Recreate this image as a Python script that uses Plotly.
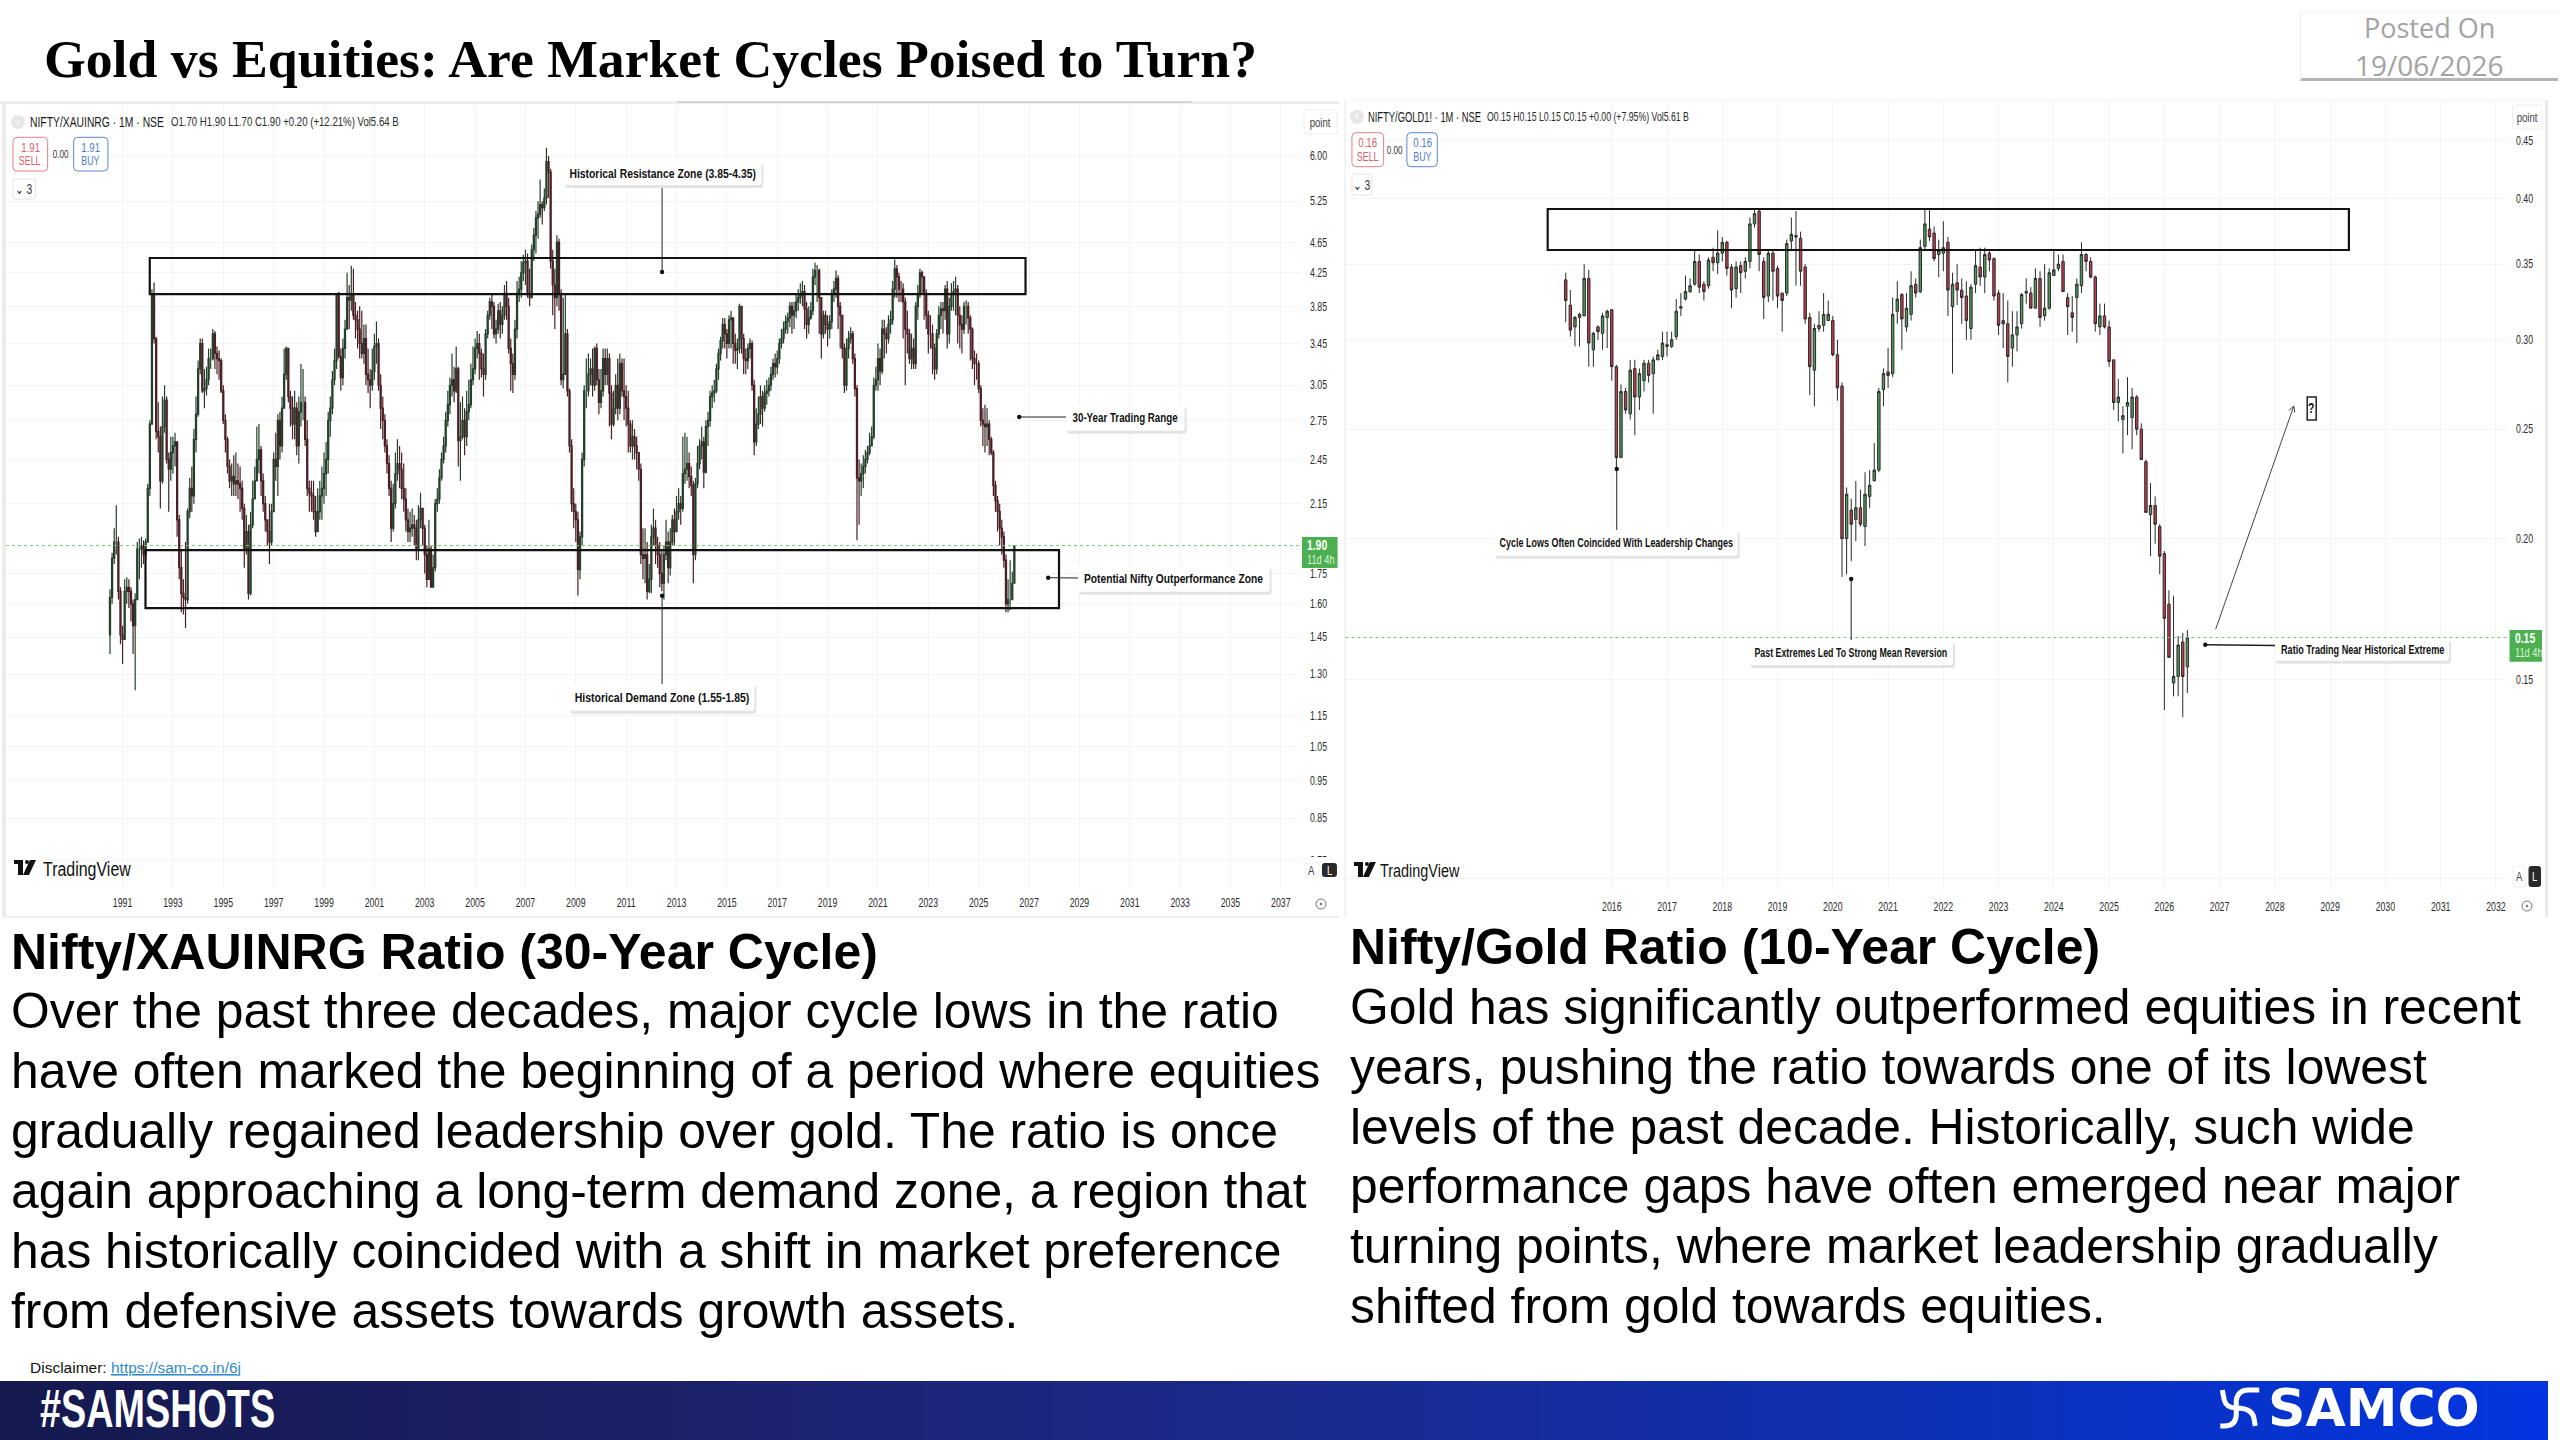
import pandas as pd
import numpy as np
import plotly.graph_objects as go

W, H = 2560, 1440
SANS = "Liberation Sans"


def narrow(percent):
    # Family stack with a width marker that the page script reads to condense the text
    return f"{SANS}, narrow{percent}"


# NIFTY / XAUINR monthly candles, Jul 1990 - Jun 2026 (one row per calendar year)
nifty_xau_first_open = 1.46
nifty_xau_close = [
    1.63,1.83,1.92,1.92,1.66,1.46,
    1.44,1.66,1.68,1.66,1.60,1.50,1.62,1.88,1.88,1.90,1.85,1.92,
    2.25,2.72,3.98,3.50,2.66,2.62,2.30,2.70,2.92,2.45,2.38,2.50,
    2.55,2.58,2.05,1.78,1.65,1.63,1.62,2.10,2.25,2.20,2.60,2.80,
    3.20,3.45,3.00,3.02,3.10,3.30,3.30,3.55,3.35,3.30,3.28,3.00,
    2.75,2.60,2.40,2.30,2.33,2.28,2.30,2.28,2.25,2.12,1.88,1.98,
    1.65,2.02,2.18,2.30,2.45,2.52,2.30,2.15,2.05,1.98,1.92,2.10,
    2.45,2.40,2.75,2.55,2.85,3.15,3.40,2.95,2.85,2.72,2.85,2.55,
    2.82,2.90,2.90,2.60,2.25,2.22,2.20,2.10,1.98,2.10,2.20,2.25,
    2.35,2.45,2.75,2.85,3.10,3.28,3.98,3.32,3.12,3.40,3.60,3.95,
    3.92,3.98,3.75,3.70,3.60,3.45,3.35,3.50,3.15,3.10,3.05,3.18,
    3.42,3.45,3.05,2.85,2.75,2.55,2.42,2.25,2.00,2.15,2.35,2.42,
    2.38,2.25,2.18,2.05,1.98,2.00,2.02,2.00,1.88,2.05,2.12,2.00,
    1.85,1.72,1.88,1.68,1.78,2.15,2.18,2.32,2.45,2.55,2.75,2.88,
    3.05,3.10,3.00,3.20,2.59,2.62,2.75,2.62,2.82,2.88,3.10,3.20,
    3.40,3.45,3.35,3.20,3.15,3.55,3.75,3.90,3.85,3.55,3.60,3.80,
    3.65,3.75,4.00,3.85,3.40,3.25,3.15,3.60,4.00,4.05,4.25,4.38,
    4.40,4.00,3.95,4.55,4.75,5.00,5.05,5.20,5.15,5.30,5.90,5.72,
    4.40,4.10,3.95,4.65,4.00,3.10,3.15,3.55,3.00,2.55,2.15,2.10,
    2.05,1.77,1.95,2.45,3.00,3.00,3.15,3.20,3.05,3.40,3.10,2.90,
    3.00,3.30,3.15,3.30,2.98,2.72,2.85,3.05,2.85,3.25,3.00,2.95,
    2.85,2.72,2.55,2.62,2.55,2.50,2.38,1.85,1.83,1.85,1.66,1.72,
    1.95,2.00,1.90,1.85,1.75,1.70,1.85,1.92,1.78,1.92,2.05,1.98,
    2.10,2.15,2.12,2.35,2.38,2.42,2.33,2.27,1.85,2.28,2.42,2.55,
    2.58,2.36,2.70,2.75,2.95,2.98,3.00,3.20,3.35,3.48,3.65,3.55,
    3.45,3.70,3.72,3.45,3.38,3.40,3.85,3.50,3.30,3.28,3.40,3.45,
    3.05,2.58,2.72,2.80,2.95,2.85,2.98,3.00,3.05,3.15,3.25,3.22,
    3.30,3.45,3.50,3.60,3.68,3.72,3.85,3.75,3.80,3.90,3.95,3.98,
    4.02,3.82,3.65,3.72,3.80,4.20,4.28,4.28,3.95,3.55,3.75,3.65,
    3.60,3.68,4.00,4.05,4.18,3.85,3.75,3.40,3.05,3.40,3.50,3.55,
    3.30,3.02,2.32,2.30,2.35,2.40,2.45,2.50,2.55,2.62,3.05,3.10,
    3.30,3.18,3.60,3.55,3.50,3.65,3.70,4.05,4.30,4.20,4.05,4.05,
    3.90,3.60,3.55,3.30,3.40,3.25,3.85,4.00,4.25,4.20,4.00,3.75,
    3.55,3.55,3.40,3.20,3.55,3.75,3.82,3.80,4.05,3.55,3.85,4.00,
    4.02,4.05,3.75,3.65,3.60,3.85,3.85,3.72,3.60,3.30,3.25,3.25,
    3.02,2.75,2.72,2.70,2.72,2.60,2.50,2.27,2.17,2.10,2.00,1.95,
    1.82,1.60,1.62,1.62,1.70,1.90,
]
nifty_xau_high = [
    1.67,1.86,2.00,2.14,1.95,1.68,
    1.50,1.72,1.73,1.72,1.68,1.62,1.65,1.92,1.94,1.95,1.93,1.94,
    2.28,2.75,4.05,4.13,3.52,2.90,2.70,2.95,3.05,2.95,2.50,2.62,
    2.62,2.65,2.20,2.08,1.88,1.72,1.92,2.12,2.32,2.40,2.68,2.95,
    3.28,3.50,3.50,3.20,3.22,3.40,3.40,3.60,3.58,3.42,3.38,3.30,
    3.05,2.80,2.62,2.45,2.42,2.48,2.50,2.42,2.40,2.30,2.15,2.08,
    2.02,2.10,2.30,2.40,2.70,2.72,2.55,2.35,2.20,2.05,2.15,2.15,
    2.50,2.65,2.80,2.82,2.95,3.40,3.42,3.20,3.00,2.95,3.00,2.90,
    2.95,3.25,3.20,2.95,2.75,2.30,2.30,2.30,2.20,2.25,2.30,2.40,
    2.50,2.58,2.82,2.95,3.18,3.40,4.00,4.02,3.40,3.50,3.70,4.25,
    4.10,4.34,4.30,3.90,3.80,3.85,3.80,3.65,3.65,3.40,3.20,3.40,
    3.55,3.68,3.50,3.15,2.95,2.80,2.60,2.48,2.30,2.28,2.50,2.60,
    2.55,2.50,2.42,2.25,2.12,2.10,2.12,2.08,2.05,2.14,2.22,2.12,
    2.02,1.90,2.05,1.90,1.85,2.18,2.25,2.38,2.50,2.62,2.82,3.00,
    3.12,3.35,3.22,3.42,3.22,2.90,2.95,2.85,3.00,3.10,3.25,3.42,
    3.50,3.58,3.55,3.40,3.35,3.60,3.80,3.95,3.98,3.90,3.70,3.88,
    3.90,3.85,4.10,4.15,3.95,3.50,3.35,3.70,4.15,4.20,4.40,4.48,
    4.55,4.50,4.30,4.62,4.85,5.10,5.25,5.60,5.25,5.45,6.15,6.00,
    5.78,4.55,4.30,4.75,4.70,4.05,3.95,4.00,3.60,3.02,2.60,2.25,
    2.15,2.10,1.98,2.50,3.05,3.30,3.35,3.30,3.40,3.42,3.45,3.20,
    3.20,3.40,3.40,3.40,3.35,3.05,3.00,3.15,3.30,3.35,3.30,3.30,
    3.05,3.00,2.75,2.75,2.68,2.62,2.50,2.42,2.00,2.00,1.92,1.80,
    2.02,2.12,2.05,1.95,1.92,1.88,1.90,2.05,1.98,2.00,2.08,2.12,
    2.20,2.25,2.20,2.62,2.65,2.62,2.50,2.40,2.30,2.32,2.55,2.60,
    2.70,2.62,2.75,2.82,3.00,3.05,3.10,3.25,3.40,3.52,3.72,3.72,
    3.60,3.75,3.80,3.70,3.55,3.50,3.88,3.85,3.55,3.40,3.45,3.50,
    3.48,3.10,2.85,2.95,3.05,3.00,3.05,3.10,3.12,3.22,3.30,3.35,
    3.38,3.50,3.60,3.68,3.75,3.78,3.90,3.90,3.90,3.98,4.05,4.12,
    4.15,4.10,3.90,3.85,3.90,4.30,4.38,4.35,4.30,3.95,3.80,3.80,
    3.75,3.75,4.05,4.15,4.28,4.22,3.90,3.75,3.45,3.50,3.58,3.62,
    3.58,3.35,3.05,2.45,2.42,2.48,2.52,2.55,2.65,2.70,3.12,3.22,
    3.45,3.40,3.70,3.70,3.62,3.75,3.80,4.15,4.42,4.35,4.25,4.15,
    4.12,3.95,3.80,3.60,3.55,3.50,3.90,4.10,4.30,4.28,4.20,4.05,
    3.80,3.75,3.65,3.45,3.60,3.85,3.90,3.90,4.10,4.15,3.95,4.12,
    4.15,4.20,4.10,3.85,3.75,3.90,3.92,3.90,3.75,3.62,3.38,3.35,
    3.28,3.05,2.85,2.88,2.85,2.75,2.62,2.52,2.30,2.20,2.15,2.05,
    1.98,1.85,1.72,1.82,1.76,1.90,
]
nifty_xau_low = [
    1.38,1.60,1.80,1.85,1.62,1.42,
    1.34,1.44,1.60,1.58,1.52,1.38,1.24,1.62,1.72,1.78,1.80,1.82,
    1.94,2.20,2.72,3.45,2.60,2.50,2.12,2.28,2.65,2.42,2.10,2.30,
    2.35,2.40,1.95,1.72,1.56,1.55,1.49,1.60,2.06,2.10,2.15,2.50,
    2.78,3.15,2.98,2.85,2.96,3.05,3.20,3.28,3.20,3.15,3.10,2.98,
    2.72,2.50,2.35,2.25,2.20,2.20,2.20,2.18,2.10,2.05,1.78,1.85,
    1.62,1.64,2.00,2.18,2.30,2.35,2.20,2.10,1.98,1.90,1.80,1.90,
    2.10,2.30,2.20,2.45,2.50,2.85,3.10,2.90,2.70,2.60,2.60,2.48,
    2.42,2.70,2.75,2.55,2.20,2.10,2.10,2.05,1.95,1.98,2.05,2.05,
    2.15,2.20,2.35,2.62,2.80,3.05,3.20,3.30,3.00,3.05,3.30,3.60,
    3.60,3.80,3.70,3.50,3.40,3.30,3.30,3.25,3.05,2.98,2.85,3.00,
    3.10,3.25,3.00,2.68,2.60,2.50,2.35,2.20,1.92,1.98,2.12,2.30,
    2.25,2.18,2.10,1.98,1.92,1.92,1.95,1.90,1.82,1.82,2.00,1.90,
    1.75,1.68,1.72,1.68,1.69,1.76,2.10,2.15,2.30,2.42,2.50,2.70,
    2.80,2.95,2.90,2.98,2.40,2.30,2.60,2.48,2.55,2.75,2.85,3.05,
    3.15,3.30,3.10,3.12,2.95,3.10,3.50,3.70,3.60,3.50,3.45,3.55,
    3.50,3.55,3.70,3.70,3.35,3.00,2.98,3.10,3.50,3.90,3.95,4.15,
    4.10,3.95,3.85,3.95,4.40,4.50,4.70,5.00,4.90,5.10,5.20,5.30,
    4.30,3.75,3.60,3.85,3.80,3.05,3.02,3.40,2.95,2.50,2.10,2.00,
    1.92,1.64,1.72,1.90,2.40,2.85,2.95,3.05,2.95,3.00,3.05,2.80,
    2.85,2.95,3.05,3.05,2.70,2.60,2.70,2.80,2.75,2.80,2.95,2.75,
    2.70,2.50,2.50,2.45,2.45,2.38,2.30,1.80,1.72,1.70,1.62,1.65,
    1.65,1.90,1.80,1.78,1.68,1.66,1.62,1.82,1.70,1.74,1.90,1.90,
    2.00,2.05,2.02,2.10,2.28,2.30,2.25,2.20,1.70,1.82,2.25,2.38,
    2.45,2.25,2.35,2.55,2.70,2.85,2.90,2.98,3.10,3.28,3.40,3.40,
    3.30,3.40,3.40,3.25,3.25,3.20,3.35,3.35,3.15,3.15,3.20,3.30,
    3.00,2.48,2.55,2.68,2.72,2.70,2.82,2.88,2.95,3.00,3.10,3.12,
    3.15,3.25,3.40,3.45,3.55,3.55,3.62,3.55,3.60,3.72,3.80,3.88,
    3.85,3.60,3.50,3.55,3.70,3.75,4.10,3.90,3.55,3.30,3.50,3.55,
    3.42,3.50,3.60,3.90,3.95,3.60,3.40,3.30,2.98,3.00,3.30,3.45,
    3.25,2.95,1.93,2.02,2.20,2.25,2.35,2.42,2.48,2.55,2.60,3.00,
    3.00,3.05,3.15,3.30,3.35,3.45,3.55,3.65,3.95,3.95,3.90,3.90,
    3.50,3.05,3.35,3.25,3.20,3.20,3.20,3.70,3.95,4.00,3.70,3.60,
    3.35,3.40,3.15,3.10,3.15,3.50,3.60,3.55,3.70,3.40,3.45,3.80,
    3.80,3.75,3.45,3.40,3.35,3.55,3.65,3.55,3.28,3.20,3.05,3.10,
    2.98,2.70,2.55,2.50,2.55,2.48,2.48,2.20,2.10,1.98,1.90,1.85,
    1.78,1.56,1.56,1.57,1.64,1.70,
]

# NIFTY / GOLD1! monthly candles, Mar 2015 - Jun 2026
nifty_gold_open = [
    .339,.322,.308,.314,.315,.340,.294,.308,.304,.314,
    .319,.284,.236,.270,.258,.283,.267,.276,.286,.280,.288,.290,
    .297,.296,.302,.320,.326,.331,.336,.352,.336,.335,.355,.351,
    .358,.366,.348,.333,.349,.345,.352,.380,.390,.352,.328,.358,
    .347,.330,.330,.367,.371,.369,.348,.314,.282,.307,.309,.312,
    .312,.291,.273,.200,.212,.208,.213,.205,.218,.225,.230,.271,
    .281,.280,.318,.329,.308,.316,.336,.331,.363,.376,.373,.357,
    .358,.366,.321,.337,.332,.328,.307,.336,.348,.341,.358,.354,
    .330,.312,.310,.295,.303,.310,.330,.330,.320,.340,.315,.320,
    .342,.347,.352,.327,.317,.327,.335,.357,.352,.341,.308,.315,
    .308,.288,.264,.255,.262,.256,.267,.250,.234,.210,.214,.205,
    .194,.175,.149,.151,.162,.154,
]
nifty_gold_close = [
    .325,.306,.314,.316,.340,.298,.304,.305,.315,.318,
    .284,.236,.270,.260,.282,.267,.280,.286,.279,.288,.291,.298,
    .296,.300,.318,.321,.331,.335,.352,.334,.331,.353,.351,.358,
    .366,.347,.332,.348,.344,.352,.380,.388,.357,.327,.358,.345,
    .328,.325,.365,.372,.370,.345,.313,.284,.307,.309,.316,.316,
    .291,.272,.200,.219,.206,.213,.206,.219,.223,.230,.270,.280,
    .279,.316,.326,.313,.320,.335,.330,.362,.380,.370,.354,.360,
    .362,.332,.336,.332,.327,.312,.334,.349,.341,.357,.353,.328,
    .309,.310,.290,.303,.308,.329,.331,.320,.340,.314,.320,.344,
    .346,.350,.331,.321,.314,.336,.357,.352,.341,.310,.315,.308,
    .287,.264,.267,.257,.264,.267,.250,.235,.211,.214,.206,.193,
    .170,.157,.151,.161,.151,.1635,
]
nifty_gold_high = [
    .344,.332,.315,.317,.350,.346,.305,.309,.317,.319,
    .319,.285,.274,.272,.288,.288,.283,.288,.288,.290,.294,.305,
    .305,.305,.326,.330,.342,.340,.360,.357,.338,.355,.362,.375,
    .370,.367,.350,.352,.352,.355,.385,.392,.392,.355,.360,.360,
    .349,.330,.368,.385,.390,.374,.350,.317,.310,.318,.330,.325,
    .315,.300,.275,.222,.217,.225,.221,.229,.230,.243,.272,.283,
    .295,.327,.338,.330,.330,.345,.340,.368,.392,.392,.378,.368,
    .382,.370,.344,.350,.340,.338,.336,.360,.362,.362,.360,.355,
    .332,.330,.325,.318,.318,.330,.340,.334,.347,.345,.350,.347,
    .360,.357,.357,.330,.328,.340,.366,.358,.355,.342,.323,.323,
    .312,.288,.277,.262,.278,.272,.268,.253,.235,.224,.218,.206,
    .195,.180,.178,.164,.165,.166,
]
nifty_gold_low = [
    .311,.302,.296,.296,.315,.284,.284,.300,.294,.295,
    .276,.230,.236,.258,.255,.247,.260,.270,.275,.258,.288,.288,
    .290,.295,.300,.315,.325,.330,.335,.330,.325,.333,.345,.343,
    .352,.342,.320,.327,.330,.340,.347,.377,.345,.313,.324,.325,
    .320,.305,.328,.360,.335,.335,.310,.268,.262,.305,.305,.312,
    .290,.265,.185,.186,.191,.199,.205,.197,.213,.225,.229,.262,
    .272,.278,.310,.294,.305,.312,.327,.330,.360,.367,.352,.341,
    .345,.315,.280,.322,.310,.300,.300,.330,.335,.330,.345,.325,
    .303,.295,.275,.284,.293,.307,.323,.320,.320,.308,.312,.319,
    .342,.345,.331,.303,.305,.298,.330,.345,.340,.305,.303,.307,
    .284,.260,.254,.238,.247,.240,.247,.235,.211,.193,.198,.186,
    .141,.157,.145,.145,.139,.146,
]

left_price_ticks = [6.00,5.25,4.65,4.25,3.85,3.45,3.05,2.75,2.45,2.15,1.75,1.60,1.45,1.30,1.15,1.05,0.95,0.85,0.75]
right_price_ticks = [0.45,0.40,0.35,0.30,0.25,0.20,0.15,0.10]
right_price_labels = ["0.45","0.40","0.35","0.30","0.25","0.20","0.15",""]
left_years = list(range(1991, 2038, 2))
right_years = list(range(2016, 2033))

resistance_zone = [3.99, 4.44]
demand_zone = [1.58, 1.875]
gold_zone = [0.3603, 0.3917]

title_text = "Gold vs Equities: Are Market Cycles Poised to Turn?"
left_heading = "Nifty/XAUINRG Ratio (30-Year Cycle)"
right_heading = "Nifty/Gold Ratio (10-Year Cycle)"
left_body = [
    "Over the past three decades, major cycle lows in the ratio",
    "have often marked the beginning of a period where equities",
    "gradually regained leadership over gold. The ratio is once",
    "again approaching a long-term demand zone, a region that",
    "has historically coincided with a shift in market preference",
    "from defensive assets towards growth assets.",
]
right_body = [
    "Gold has significantly outperformed equities in recent",
    "years, pushing the ratio towards one of its lowest",
    "levels of the past decade. Historically, such wide",
    "performance gaps have often emerged near major",
    "turning points, where market leadership gradually",
    "shifted from gold towards equities.",
]


def fractional_years(start, count):
    months = pd.period_range(start, periods=count, freq="M")
    return [m.year + (m.month - 1) / 12 for m in months]


def px(x):
    return x / W


def py(y):
    return 1 - y / H


shapes, notes = [], []


def rect(x0, y0, x1, y1, fill=None, line=None, width=1, r=0, layer="above"):
    if r:
        path = (f"M{px(x0+r)},{py(y0)} L{px(x1-r)},{py(y0)} Q{px(x1)},{py(y0)} {px(x1)},{py(y0+r)} "
                f"L{px(x1)},{py(y1-r)} Q{px(x1)},{py(y1)} {px(x1-r)},{py(y1)} L{px(x0+r)},{py(y1)} "
                f"Q{px(x0)},{py(y1)} {px(x0)},{py(y1-r)} L{px(x0)},{py(y0+r)} Q{px(x0)},{py(y0)} {px(x0+r)},{py(y0)} Z")
        shape = dict(type="path", path=path)
    else:
        shape = dict(type="rect", x0=px(x0), x1=px(x1), y0=py(y0), y1=py(y1))
    shape.update(xref="paper", yref="paper", layer=layer, fillcolor=fill or "rgba(0,0,0,0)",
                 line=dict(color=line or "rgba(0,0,0,0)", width=width if line else 0))
    shapes.append(shape)


def seg(x0, y0, x1, y1, color="#222222", width=1, dash=None):
    shapes.append(dict(type="line", xref="paper", yref="paper", x0=px(x0), x1=px(x1), y0=py(y0), y1=py(y1),
                       line=dict(color=color, width=width, dash=dash or "solid"), layer="above"))


def dot(x, y, r=2.2, color="#111111"):
    shapes.append(dict(type="circle", xref="paper", yref="paper", x0=px(x-r), x1=px(x+r), y0=py(y-r), y1=py(y+r),
                       fillcolor=color, line=dict(width=0), layer="above"))


def text(x, y, s, size=12, color="#222222", family=None, anchor="left", bold=False):
    notes.append(dict(xref="paper", yref="paper", x=px(x), y=py(y), text=f"<b>{s}</b>" if bold else s,
                      showarrow=False, xanchor=anchor, yanchor="middle", borderpad=0, align=anchor,
                      font=dict(size=size, color=color, family=family or narrow(74))))


def callout(x0, y0, x1, y1, s, squeeze=68):
    rect(x0 + 1, y0 + 2, x1 + 2, y1 + 3, fill="#e3e3e3", r=3)
    rect(x0, y0, x1, y1, fill="#ffffff", r=3)
    text((x0 + x1) / 2, (y0 + y1) / 2, s, size=13, color="#111111", anchor="center", bold=True, family=narrow(squeeze))


def path_stroke(points, color="#ffffff", width=5):
    parts = []
    for cmd, *coords in points:
        parts.append(cmd + " ".join(f"{px(coords[i])},{py(coords[i+1])}" for i in range(0, len(coords), 2)))
    shapes.append(dict(type="path", path=" ".join(parts), xref="paper", yref="paper", layer="above",
                       line=dict(color=color, width=width)))


def tv_logo(x, y):
    # TradingView mark: a T-bar plus a dot and slanted stroke
    rect(x, y, x + 9, y + 4, fill="#111111")
    rect(x + 4, y, x + 9, y + 15, fill="#111111")
    dot(x + 13, y + 2, 2)
    shapes.append(dict(type="path", xref="paper", yref="paper", layer="above", fillcolor="#111111", line=dict(width=0),
                       path=f"M{px(x+16)},{py(y)} L{px(x+22)},{py(y)} L{px(x+15)},{py(y+15)} L{px(x+9)},{py(y+15)} Z"))


def chart_chrome(hx, hy, symbol, sym_x, sym_squeeze, ohlc, ohlc_x, ohlc_squeeze, price, sell_box, mid_x, buy_box, chev_box,
                 point_box, tag_box, tag_price, ab_box, gear, tv_xy, tv_text_x, tv_size):
    # Legend row, order buttons, and the small controls that sit around a price pane
    shapes.append(dict(type="circle", xref="paper", yref="paper", x0=px(hx-7), x1=px(hx+7), y0=py(hy-7), y1=py(hy+7),
                       fillcolor="#e6e6e6", line=dict(width=0), layer="above"))
    text(hx, hy, "×", size=10, color="#ffffff", anchor="center")
    text(sym_x, hy, symbol, size=14, color="#1a1a1a", family=narrow(sym_squeeze))
    text(ohlc_x, hy, ohlc, size=12.5, color="#2a2a2a", family=narrow(ohlc_squeeze))
    rect(*sell_box, fill="#ffffff", line="#e57f86", width=1, r=4)
    rect(*buy_box, fill="#ffffff", line="#5b86d6", width=1, r=4)
    for box, label, color in ((sell_box, "SELL", "#d9606a"), (buy_box, "BUY", "#4f7bd0")):
        cx, cy = (box[0] + box[2]) / 2, (box[1] + box[3]) / 2
        text(cx, cy - 7, price, size=13, color=color, anchor="center")
        text(cx, cy + 7, label, size=12, color=color, anchor="center")
    text(mid_x, (sell_box[1] + sell_box[3]) / 2, "0.00", size=11, color="#333333", anchor="center")
    rect(*chev_box, fill="#ffffff", line="#e4e4e4", width=1, r=2)
    text((chev_box[0] + chev_box[2]) / 2, (chev_box[1] + chev_box[3]) / 2, "⌄ 3", size=14, color="#333333", anchor="center")
    rect(*point_box, fill="#ffffff", line="#eeeeee", width=1, r=2)
    text((point_box[0] + point_box[2]) / 2, (point_box[1] + point_box[3]) / 2, "point", size=13, color="#444444", anchor="center")
    rect(*tag_box, fill="#4caf50")
    mid = (tag_box[1] + tag_box[3]) / 2
    text(tag_box[0] + 4, mid - 8, tag_price, size=14, color="#ffffff", bold=True)
    text(tag_box[0] + 4, mid + 7, "11d 4h", size=12.5, color="#d9f2da")
    ax0, ay0, ax1, ay1, lx0, lx1 = ab_box
    rect(ax0 - 3, ay0 - 6, lx1 + 3, ay1 + 1, fill="#ffffff")
    rect(ax0, ay0, ax1, ay1, fill="#ffffff", line="#eeeeee", r=2)
    text((ax0 + ax1) / 2, (ay0 + ay1) / 2, "A", size=13, color="#444444", anchor="center")
    rect(lx0, ay0, lx1, ay1, fill="#2a2a2a", r=3)
    text((lx0 + lx1) / 2, (ay0 + ay1) / 2, "L", size=13, color="#ffffff", anchor="center")
    shapes.append(dict(type="circle", xref="paper", yref="paper", x0=px(gear[0]-5), x1=px(gear[0]+5), y0=py(gear[1]-5),
                       y1=py(gear[1]+5), line=dict(color="#777777", width=1), fillcolor="rgba(0,0,0,0)", layer="above"))
    dot(gear[0], gear[1], 1.3, "#777777")
    tv_logo(*tv_xy)
    text(tv_text_x, tv_xy[1] + 8, "TradingView", size=tv_size, color="#111111", family=narrow(76))


# Panel edges
rect(0, 101, 1340, 104, fill="#ededed")
rect(678, 101, 1192, 103, fill="#d6d6d6")
rect(2, 104, 6, 917, fill="#ececec")
rect(4, 916, 1340, 917.5, fill="#ececec")
rect(1345.5, 100, 1347, 917, fill="#efefef")
rect(2547, 100, 2550, 917, fill="#e9e9e9")
rect(1346, 100, 2547, 101, fill="#f5f5f5")

# Analyst zones, drawn on the price axes
line_black = dict(color="#111111", width=2.2)
shapes.append(dict(type="rect", xref="x", yref="y", x0=1992.08, x1=2026.86, y0=resistance_zone[0], y1=resistance_zone[1], line=line_black, layer="above"))
shapes.append(dict(type="rect", xref="x", yref="y", x0=1991.91, x1=2028.19, y0=demand_zone[0], y1=demand_zone[1], line=line_black, layer="above"))
shapes.append(dict(type="rect", xref="x2", yref="y2", x0=2014.84, x1=2029.34, y0=gold_zone[0], y1=gold_zone[1], line=line_black, layer="above"))

# Last-price lines
dotted = dict(color="#7cc47f", width=1, dash="dot")
shapes.append(dict(type="line", xref="x domain", yref="y", x0=0, x1=1, y0=nifty_xau_close[-1], y1=nifty_xau_close[-1], line=dotted, layer="above"))
shapes.append(dict(type="line", xref="x2 domain", yref="y2", x0=0, x1=1, y0=nifty_gold_close[-1], y1=nifty_gold_close[-1], line=dotted, layer="above"))

# Left pane callouts
seg(662.6, 185, 662.6, 272); dot(662.6, 272)
callout(564.6, 162, 762, 185, "Historical Resistance Zone (3.85-4.35)", squeeze=80)
seg(1020, 417, 1067, 417); dot(1020, 417)
callout(1067, 405, 1185.6, 430.7, "30-Year Trading Range", squeeze=75)
seg(1049, 577.7, 1079, 578); dot(1049, 577.7)
callout(1079, 566, 1270.6, 591.7, "Potential Nifty Outperformance Zone", squeeze=79)
seg(662.6, 684, 662.6, 595.7); dot(662.6, 595.7)
callout(570, 684, 755, 710.7, "Historical Demand Zone (1.55-1.85)", squeeze=81)

# Right pane callouts
seg(1618, 530, 1618, 469); dot(1618, 469)
callout(1496, 530, 1739, 555.7, "Cycle Lows Often Coincided With Leadership Changes", squeeze=69)
seg(1852.6, 640, 1852.6, 579); dot(1852.6, 579)
callout(1751, 640, 1954.5, 665, "Past Extremes Led To Strong Mean Reversion", squeeze=68)
seg(2207, 644.7, 2277, 645.5, width=1.5); dot(2207, 644.7)
callout(2277, 639, 2451, 660.7, "Ratio Trading Near Historical Extreme", squeeze=70)
seg(2217.4, 629.3, 2295.6, 406, color="#444444")
seg(2295.6, 406, 2290.5, 410.5, color="#444444")
seg(2295.6, 406, 2296.5, 412.5, color="#444444")
rect(2309, 397, 2318, 420, fill="#ffffff", line="#222222", width=1.5)
text(2313.5, 408.5, "?", size=14, color="#111111", anchor="center", bold=True)

chart_chrome(18, 122, "NIFTY/XAUINRG · 1M · NSE", 28.6, 74, "O1.70 H1.90 L1.70 C1.90 +0.20 (+12.21%) Vol5.64 B", 170, 77,
             "1.91", (13, 137.3, 47.7, 171), 60.7, (73.7, 137.3, 108, 171), (13, 179, 35.5, 199),
             (1305, 110, 1338, 134), (1303, 537, 1338.6, 568), "1.90", (1306, 863, 1320, 877, 1323, 1338),
             (1322, 904), (14, 860), 42, 21)
chart_chrome(1358, 116.7, "NIFTY/GOLD1! · 1M · NSE", 1368, 67, "O0.15 H0.15 L0.15 C0.15 +0.00 (+7.95%) Vol5.61 B", 1487, 70,
             "0.16", (1353, 132.7, 1384.7, 166.7), 1396, (1408, 132.7, 1438.4, 166.7), (1353, 174, 1373, 195),
             (2514.5, 105, 2544, 129), (2511.5, 630, 2544, 661.7), "0.15", (2515, 866, 2527, 887, 2530.5, 2543),
             (2529, 906), (1355, 862), 1380, 19)

# Date stamp box in the corner
rect(2302, 78, 2560, 81, fill="#b5b5b5")
rect(2302, 12, 2303, 80, fill="#eeeeee")
rect(2302, 12, 2560, 13, fill="#f3f3f3")
text(2431, 27, "Posted On", size=27, color="#a3a3a3", family="Open Sans", anchor="center")
text(2431, 65, "19/06/2026", size=28, color="#a3a3a3", family="Open Sans", anchor="center")

# Headline and commentary
text(43, 59, title_text, size=53.7, color="#000000", family="Liberation Serif", bold=True)
text(10, 952, left_heading, size=50, color="#000000", family=SANS, bold=True)
text(1350, 947, right_heading, size=50, color="#000000", family=SANS, bold=True)
for i, line in enumerate(left_body):
    text(10, 1011 + i * 60, line, size=49.8, color="#000000", family=SANS)
for i, line in enumerate(right_body):
    text(1350, 1007 + i * 59.8, line, size=49.8, color="#000000", family=SANS)

# Disclaimer and footer brand
text(29, 1367, 'Disclaimer: <span style="color:#2e8bc9"><u>https://sam-co.in/6j</u></span>', size=15.5, color="#111111", family=SANS)
text(39, 1408, "#SAMSHOTS", size=54, color="#ffffff", family=narrow(70), bold=True)
text(2269, 1408, "SAMCO", size=52, color="#ffffff", family="DejaVu Sans", bold=True)
path_stroke([("M", 2224, 1390), ("L", 2226, 1400), ("Q", 2228, 1408, 2238, 1408), ("Q", 2255, 1408, 2256, 1420), ("L", 2257, 1426)])
path_stroke([("M", 2261, 1390), ("L", 2250, 1390), ("Q", 2240, 1390, 2238, 1400), ("L", 2238, 1414), ("Q", 2238, 1426, 2226, 1426), ("L", 2222, 1426)])

fig = go.Figure()

fig.add_trace(go.Candlestick(
    x=fractional_years("1990-07", len(nifty_xau_close)),
    open=[nifty_xau_first_open] + nifty_xau_close[:-1],
    high=nifty_xau_high, low=nifty_xau_low, close=nifty_xau_close,
    xaxis="x", yaxis="y",
    increasing=dict(line=dict(color="#24402b", width=1.2), fillcolor="#3f7d4c"),
    decreasing=dict(line=dict(color="#4a1f26", width=1.2), fillcolor="#a8323f"),
    whiskerwidth=0,
))
fig.add_trace(go.Candlestick(
    x=fractional_years("2015-03", len(nifty_gold_close)),
    open=nifty_gold_open, high=nifty_gold_high, low=nifty_gold_low, close=nifty_gold_close,
    xaxis="x2", yaxis="y2",
    increasing=dict(line=dict(color="#2a2a2a", width=1), fillcolor="#4c9a57"),
    decreasing=dict(line=dict(color="#2a2a2a", width=1), fillcolor="#c23b4c"),
    whiskerwidth=0,
))

# Footer colour band
ramp = np.linspace(0, 1, 256)
fig.add_trace(go.Heatmap(
    z=[ramp, ramp], x=ramp, y=[0, 1], xaxis="x3", yaxis="y3", showscale=False, zsmooth="best", hoverinfo="skip",
    colorscale=[[0, "#14194e"], [0.25, "#1c2068"], [0.5, "#1b2a8c"], [0.75, "#0d30b4"], [1, "#0235e0"]],
))

grid = "#f3f3f3"
tick_font = dict(family=narrow(73), size=12, color="#2a2a2a")
axis_common = dict(showgrid=True, gridcolor=grid, gridwidth=1, zeroline=False, showline=False, ticks="", fixedrange=True,
                   tickfont=tick_font, ticklen=0)
fig.update_layout(
    width=W, height=H, margin=dict(l=0, r=0, t=0, b=0), paper_bgcolor="#ffffff", plot_bgcolor="#ffffff",
    showlegend=False, shapes=shapes, annotations=notes, boxgap=0.25,
    xaxis=dict(axis_common, domain=[px(6), px(1302)], range=[1986.37, 2037.80], anchor="y", type="linear",
               tickmode="array", tickvals=left_years, ticktext=[str(y) for y in left_years],
               rangeslider=dict(visible=False), ticklabelstandoff=6),
    yaxis=dict(axis_common, domain=[py(888), py(105)], type="log", anchor="x", side="right",
               range=[np.log10(0.6915), np.log10(6.975)], tickmode="array", tickvals=left_price_ticks,
               ticktext=[f"{v:.2f}" for v in left_price_ticks], ticklabelstandoff=8),
    xaxis2=dict(axis_common, domain=[px(1346.5), px(2510)], range=[2011.18, 2032.22], anchor="y2", type="linear",
                tickmode="array", tickvals=right_years, ticktext=[str(y) for y in right_years],
                rangeslider=dict(visible=False), ticklabelstandoff=8),
    yaxis2=dict(axis_common, domain=[py(890), py(100)], type="log", anchor="x2", side="right",
                range=[np.log10(0.0977), np.log10(0.4892)], tickmode="array", tickvals=right_price_ticks,
                ticktext=right_price_labels, ticklabelstandoff=7),
    xaxis3=dict(domain=[0, px(2550)], range=[0, 1], visible=False, anchor="y3", fixedrange=True),
    yaxis3=dict(domain=[0, py(1381)], range=[0, 1], visible=False, anchor="x3", fixedrange=True),
)

# Condense every text whose family carries a width marker, scaling around its anchor point,
# and keep the page to exactly the figure size
condense_text = """
[document.documentElement, document.body, document.querySelector('.plotly-graph-div')].forEach(function (el) {
  el.style.overflow = 'hidden';
  el.style.width = '2560px';
});
document.querySelectorAll('text').forEach(function (t) {
  var m = (t.style.fontFamily || '').match(/narrow(\\d+)/);
  if (!m || t.dataset.condensed) { return; }
  var x = parseFloat(t.getAttribute('x')) || 0;
  var k = parseInt(m[1], 10) / 100;
  var before = t.getAttribute('transform') || '';
  t.setAttribute('transform', before + ' translate(' + x + ',0) scale(' + k + ',1) translate(' + (-x) + ',0)');
  t.dataset.condensed = '1';
});
"""
fig.write_html("out.html", config=dict(displayModeBar=False), post_script=condense_text)
